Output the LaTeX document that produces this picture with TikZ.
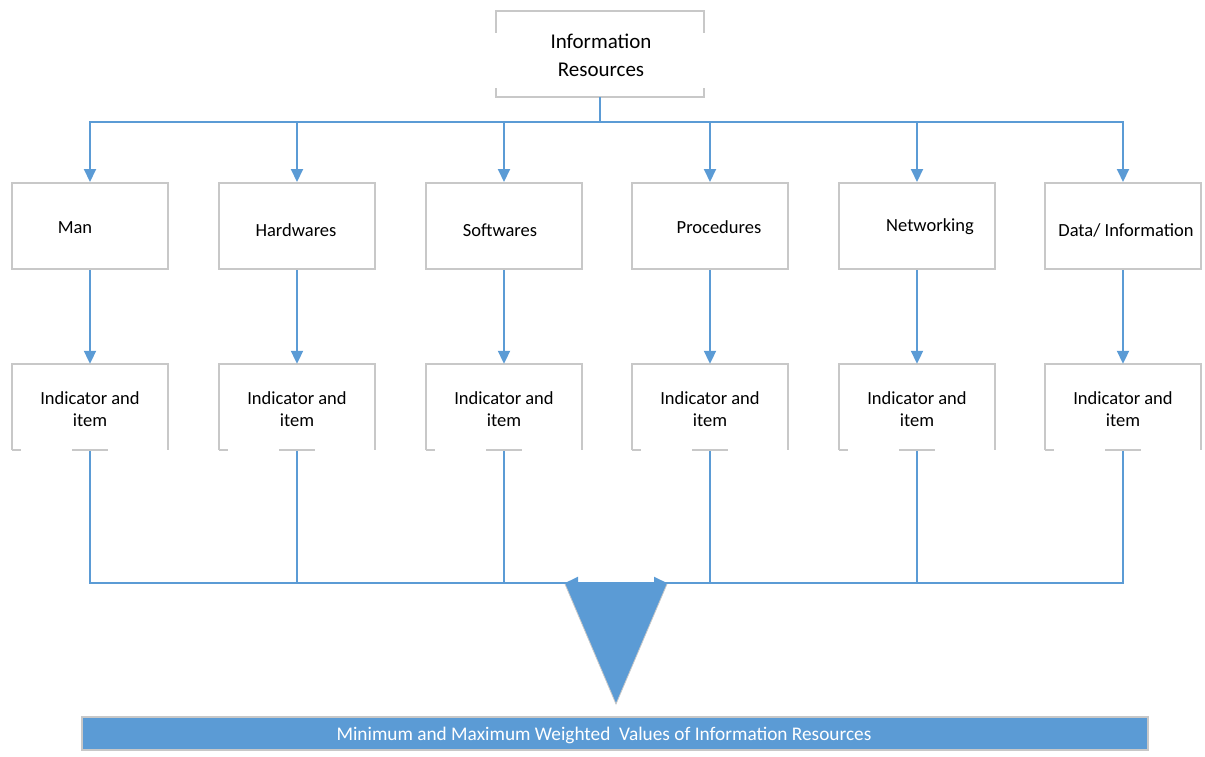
\documentclass[tikz,border=0pt]{standalone}
\usepackage{fontspec}
\setmainfont{Carlito}
\usetikzlibrary{arrows.meta,calc}
\definecolor{lblue}{HTML}{5B9BD5}
\definecolor{bgray}{HTML}{C8C8C8}
\begin{document}
\begin{tikzpicture}[x=1pt,y=-1pt,
  conn/.style={draw=lblue,line width=2pt},
  tip/.style={-{Triangle[width=12pt,length=13pt]}},
  rowbox/.style={draw=bgray,line width=2pt,fill=white,minimum width=156pt,minimum height=86pt,inner sep=0pt},
  ghost/.style={draw=none,minimum width=156pt,minimum height=87pt,inner sep=0pt},
  lab/.style={font=\fontsize{18.5}{22}\selectfont,text=black,inner sep=0pt,align=center},
  toplab/.style={font=\fontsize{21}{28}\selectfont,text=black,inner sep=0pt,align=center},
  border/.style={draw=bgray,line width=2pt}]
\useasboundingbox (0,0) rectangle (1205,756);
% top box
\node[ghost,minimum width=208pt,minimum height=86pt] (top) at (600,54) {};
\draw[border] ($(top.north west)+(0,22)$) |- (top.north east) -- ++(0,22);
\draw[border] ($(top.south west)+(0,-9)$) |- (top.south east) -- ++(0,-9);
\node[toplab] (toptxt) at (601,55) {Information\\Resources};
% row 1 and row 2
\foreach \i/\x/\lx/\ly/\t in {1/90/75/228/{Man},2/297/296/230/{Hardwares},3/504/500/230/{Softwares},4/710/719/227/{Procedures},5/917/930/227/{Networking},6/1123/1126/230/{Data/ Information}}{
  \node[rowbox] (a\i) at (\x,226) {};
  \node[lab] (al\i) at (\lx,\ly) {\t};
  \node[ghost] (b\i) at (\x,407.5) {};
  \draw[border] ($(b\i.south west)+(0,-1)$) -- (b\i.north west) -- (b\i.north east) -- ($(b\i.south east)+(0,-1)$);
  \draw[border] ($(b\i.south west)+(0,-1)$) -- ++(9,0);
  \draw[border] ($(b\i.south)+(-18,-1)$) -- ++(36,0);
  \node[lab] (bl\i) at (\x,409) {Indicator and\\item};
}
% connectors
\coordinate (bus1) at (600,122);
\coordinate (bus2) at (616,583);
\foreach \i in {1,...,6}{
  \draw[conn,tip] (top.south) -- (bus1) -| (a\i.north);
  \draw[conn,tip] (a\i.south) -- (b\i.north);
  \draw[conn] (b\i.south) |- (bus2);
}
% funnel triangle
\coordinate (tl) at (565,583);
\coordinate (tr) at (667,583);
\coordinate (tb) at (616,704);
\draw[conn,{Triangle[width=12pt,length=13pt]}-{Triangle[width=12pt,length=13pt]}] (tl) -- (tr);
\fill[lblue] ($(tl)+(0,1)$) -- ($(tr)+(0,1)$) -- (tb) -- cycle;
\draw[bgray,line width=0.8pt] ($(tl)+(0,1)$) -- (tb) -- ($(tr)+(0,1)$);
% bottom bar
\node[draw=bgray,line width=1.2pt,fill=lblue,minimum width=1066pt,minimum height=33pt,inner sep=0pt] (bar) at (615,733.5) {};
\node[font=\fontsize{19.3}{21}\selectfont,text=white,inner sep=0pt] (bartxt) at (604,735) {Minimum and Maximum Weighted\ \ Values of Information Resources};
\end{tikzpicture}
\end{document}
